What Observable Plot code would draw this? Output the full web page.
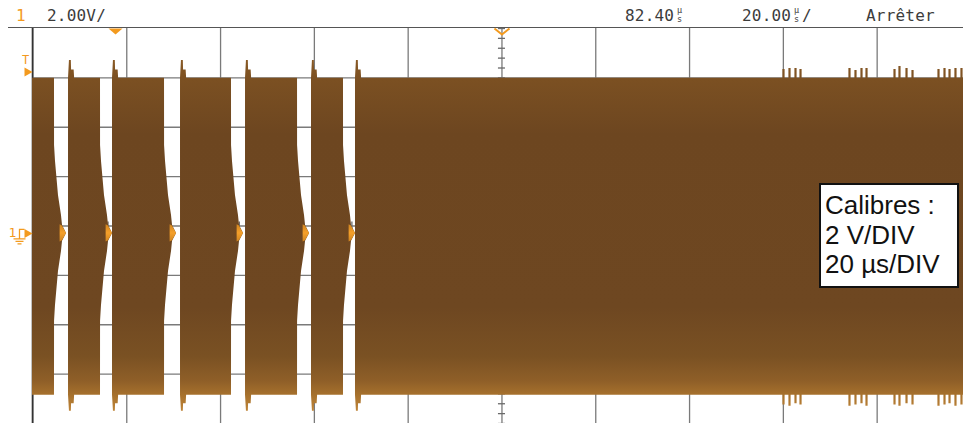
<!DOCTYPE html>
<html>
<head>
<meta charset="utf-8">
<script src="https://cdn.jsdelivr.net/npm/d3@7"></script>
<script src="https://cdn.jsdelivr.net/npm/@observablehq/plot@0.6"></script>
<style>
html,body{margin:0;padding:0;background:#fff;width:963px;height:423px;overflow:hidden;}
#wrap{position:relative;width:963px;height:423px;}
#header{position:absolute;left:0;top:0;width:963px;height:28px;font-family:"DejaVu Sans Mono",monospace;font-size:16px;line-height:16px;color:#3c3c3c;}
#header .line{position:absolute;left:8px;right:0;top:27px;height:1px;background:#555;}
#header .t{position:absolute;top:8px;letter-spacing:0.2px;white-space:nowrap;}
#header .u{position:absolute;font-size:8.5px;line-height:8px;width:11px;text-align:center;white-space:nowrap;}
#chart{position:absolute;left:0;top:28px;}
#box{position:absolute;left:819px;top:183px;width:132px;height:95px;border:2px solid #111;background:#fff;
 font-family:"Liberation Sans",Arial,sans-serif;font-size:26px;line-height:29.5px;color:#111;padding:6px 0 0 4px;white-space:nowrap;}
</style>
</head>
<body>
<div id="wrap">
  <div id="header">
    <div class="line"></div>
    <span class="t" style="left:16px;color:#f39a1e">1</span>
    <span class="t" style="left:47px">2.00V/</span>
    <span class="t" style="left:625px">82.40</span>
    <span class="u" style="left:674px;top:6px">µ</span>
    <span class="u" style="left:674px;top:15px">s</span>
    <span class="t" style="left:742px">20.00</span>
    <span class="u" style="left:791px;top:6px">µ</span>
    <span class="u" style="left:791px;top:15px">s</span>
    <span class="t" style="left:802px">/</span>
    <span class="t" style="left:866px">Arrêter</span>
  </div>
  <div id="chart"></div>
  <div id="box">Calibres :<br>2 V/DIV<br>20 µs/DIV</div>
</div>
<script>
// ---- Scope settings (time in µs, trigger = 0; voltage in V, ground = 0) ----
const timeDomain = [-17.70, 180.81];
const voltDomain = [-7.70, 8.30];
const delay = 82.4;          // screen centre time
const timeDiv = 20;          // µs / div
const voltDiv = 2;           // V / div
const screenCenterV = 0.3;   // centre graticule line (V)
const triggerLevel = 6.54;   // V

// ---- Burst envelopes ----
const burstStart = [-17.70, -10.02, -0.64, 13.86, 27.72, 41.79, 51.17];
const burstEnd   = [-13.01, -3.20, 10.45, 24.73, 38.81, 48.61, 180.81];
const burstSpike = [false, true, true, true, true, true, true];
const burstTail  = [true, true, true, true, true, true, false];
const envTop = 6.28, envBottom = -6.56;
const spikeTop = 7.0, spikeBottom = -7.2;
const shoulderTop = 6.62, shoulderBottom = -6.9;
// decaying tail after each burst (offset µs, half amplitude V)
const tailDt  = [0, 0.21, 0.85, 1.49, 1.71, 2.56];
const tailAmp = [3.56, 2.92, 1.54, 0.73, 0.32, 0];
// glitches on the continuous part
const glitchT = [142.43,143.71,144.99,146.06,156.50,157.78,159.06,160.13,166.10,167.16,168.66,169.94,175.48,176.76,177.83,179.10,180.38];
const glitchTop = [6.64,6.68,6.68,6.64,6.68,6.60,6.68,6.68,6.64,6.76,6.68,6.60,6.64,6.68,6.64,6.68,6.68];
const glitchBottom = [-6.95,-7.0,-6.9,-6.95,-7.0,-6.95,-6.9,-7.0,-6.95,-7.0,-6.9,-6.95,-7.0,-6.95,-6.9,-7.0,-6.95];

const orange = "#f39a1e";

// ---- build tables ----
const env = [];
burstStart.forEach((s, i) => {
  const e = burstEnd[i];
  const pts = [[s, envBottom, envTop]];
  if (burstSpike[i]) {
    pts.push([s + 0.2, spikeBottom, spikeTop], [s + 0.6, spikeBottom, spikeTop],
             [s + 0.65, shoulderBottom, shoulderTop], [s + 1.2, shoulderBottom, shoulderTop],
             [s + 1.3, envBottom, envTop]);
  }
  pts.push([e, envBottom, envTop]);
  if (burstTail[i]) tailDt.forEach((dt, k) => pts.push([e + dt + (k === 0 ? 0.01 : 0), -tailAmp[k], tailAmp[k]]));
  pts.forEach(p => env.push({burst: i, t: p[0], lo: p[1], hi: p[2]}));
});
const tips = [];
burstEnd.forEach((e, i) => {
  if (!burstTail[i]) return;
  [[1.2, 0.35], [1.71, 0.3], [2.56, 0]].forEach(p => tips.push({burst: i, t: e + p[0], lo: -p[1], hi: p[1]}));
});
const glitches = glitchT.map((t, i) => ({t, lo: glitchBottom[i], hi: glitchTop[i]}));

const xTicks = d3.range(delay - 5 * timeDiv, timeDomain[1], timeDiv);
const yTicks = d3.range(screenCenterV - 3 * voltDiv, screenCenterV + 3.5 * voltDiv, voltDiv);
const minorY = d3.range(screenCenterV - 4 * voltDiv, screenCenterV + 4 * voltDiv + 0.01, voltDiv / 5);
const minorX = d3.range(delay - 5 * timeDiv, timeDomain[1], timeDiv / 5);

// custom symbols
const arrowRight = {draw(c) { c.moveTo(-4, -4.5); c.lineTo(4, 0); c.lineTo(-4, 4.5); c.closePath(); }};
const flatDown = {draw(c) { c.moveTo(-7, 0); c.lineTo(7, 0); c.lineTo(0, 6); c.closePath(); }};
const chevron = {draw(c) { c.moveTo(-7.5, 0); c.lineTo(0, 6); c.lineTo(7.5, 0); }};
const groundSym = {draw(c) {
  c.moveTo(-13, 5); c.lineTo(-13, -4); c.lineTo(-8, -4);
  c.moveTo(-19, 5.5); c.lineTo(-7, 5.5);
  c.moveTo(-17, 8); c.lineTo(-9, 8);
  c.moveTo(-15, 10.5); c.lineTo(-11, 10.5);
}};

const gradStops = [[7.2, "#8c5c26"], [6.2, "#7b5022"], [4.0, "#6d4620"], [-3.0, "#6e4721"], [-5.0, "#7a5123"], [-6.0, "#8f5f28"], [-6.6, "#a8722d"], [-7.3, "#c2873a"]];
const tipStops = [[0.4, "#c9801f"], [0, "#f5a02a"], [-0.4, "#c9801f"]];

const defs = (index, scales) => {
  const y = scales && scales.y ? scales.y : d3.scaleLinear(voltDomain, [395, 0]);
  const d = d3.create("svg:defs");
  const g = d.append("linearGradient").attr("id", "sig").attr("gradientUnits", "userSpaceOnUse")
    .attr("x1", 0).attr("x2", 0).attr("y1", y(gradStops[0][0])).attr("y2", y(gradStops[gradStops.length - 1][0]));
  const span = gradStops[0][0] - gradStops[gradStops.length - 1][0];
  gradStops.forEach(([v, c]) => g.append("stop").attr("offset", (gradStops[0][0] - v) / span).attr("stop-color", c));
  const g2 = d.append("linearGradient").attr("id", "tip").attr("gradientUnits", "userSpaceOnUse")
    .attr("x1", 0).attr("x2", 0).attr("y1", y(0.4)).attr("y2", y(-0.4));
  tipStops.forEach(([v, c]) => g2.append("stop").attr("offset", (0.4 - v) / 0.8).attr("stop-color", c));
  return d.node();
};

const chart = Plot.plot({
  width: 963, height: 395,
  marginTop: 0, marginBottom: 0, marginLeft: 32, marginRight: 0,
  x: {domain: timeDomain, axis: null},
  y: {domain: voltDomain, axis: null},
  style: {background: "transparent", overflow: "visible"},
  marks: [
    defs,
    Plot.ruleX(xTicks, {stroke: "#7a7a7a", strokeWidth: 1.3}),
    Plot.ruleY(yTicks, {stroke: "#7a7a7a", strokeWidth: 1.3}),
    Plot.ruleY(minorY, {x1: delay - 0.75, x2: delay + 0.75, stroke: "#6a6a6a", strokeWidth: 1.3}),
    Plot.ruleX(minorX, {y1: screenCenterV - 0.16, y2: screenCenterV + 0.16, stroke: "#6a6a6a", strokeWidth: 1.3}),
    Plot.ruleX([timeDomain[0]], {stroke: "#333", strokeWidth: 1.6}),
    Plot.areaY(env, {x: "t", y1: "lo", y2: "hi", z: "burst", fill: "url(#sig)", curve: "linear"}),
    Plot.areaY(tips, {x: "t", y1: "lo", y2: "hi", z: "burst", fill: "url(#tip)", curve: "linear"}),
    Plot.ruleX(glitches, {x: "t", y1: "lo", y2: "hi", stroke: "url(#sig)", strokeWidth: 2.2}),
    // markers
    Plot.dot([0], {x: d => d, frameAnchor: "top", symbol: flatDown, r: 4, fill: orange, stroke: "none"}),
    Plot.dot([delay], {x: d => d, frameAnchor: "top", symbol: chevron, r: 4, fill: "none", stroke: orange, strokeWidth: 2}),
    Plot.dot([triggerLevel], {y: d => d, frameAnchor: "left", dx: -4, symbol: arrowRight, r: 4, fill: orange, stroke: "none"}),
    Plot.text([triggerLevel], {y: d => d, frameAnchor: "left", textAnchor: "middle", dx: -7, dy: -8, lineAnchor: "bottom", text: () => "T", fill: orange, fontSize: 12, fontFamily: "DejaVu Sans Mono"}),
    Plot.dot([0], {y: d => d, frameAnchor: "left", dx: -4, symbol: arrowRight, r: 4, fill: orange, stroke: "none"}),
    Plot.dot([0], {y: d => d, frameAnchor: "left", symbol: groundSym, r: 4, fill: "none", stroke: orange, strokeWidth: 1.3}),
    Plot.text([0], {y: d => d, frameAnchor: "left", textAnchor: "middle", dx: -20, dy: -1, text: () => "1", fill: orange, fontSize: 13, fontFamily: "DejaVu Sans Mono"})
  ]
});
document.getElementById("chart").appendChild(chart);
</script>
</body>
</html>
